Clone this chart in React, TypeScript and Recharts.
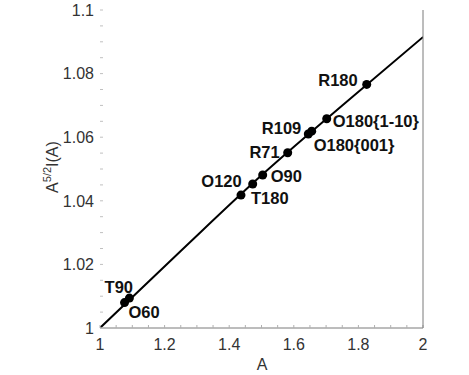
import { ComposedChart, Line, Scatter, XAxis, YAxis } from 'recharts'

// measured points (A, A^{5/2} I(A))
const pointNames = ['T90', 'O60', 'T180', 'O120', 'O90', 'R71', 'R109', 'O180{001}', 'O180{1-10}', 'R180']
const pointA = [1.076, 1.091, 1.4365, 1.4728, 1.5037, 1.5811, 1.6449, 1.6554, 1.7019, 1.8257]
const pointI = [1.008, 1.0094, 1.0418, 1.0453, 1.0481, 1.0551, 1.061, 1.0619, 1.0658, 1.0766]

// fitted curve
const curveA = [1, 1.25, 1.5, 1.75, 2]
const curveI = [1, 1.0242, 1.048, 1.07, 1.0915]

const xMajor = [1, 1.2, 1.4, 1.6, 1.8, 2]
const yMajor = [1, 1.02, 1.04, 1.06, 1.08, 1.1]

const points = pointNames.map((name, k) => ({ name, a: pointA[k], i: pointI[k] }))
const curve = curveA.map((a, k) => ({ a, i: curveI[k] }))

const range = (from: number, to: number, step: number) => {
  const out: number[] = []
  for (let v = from; v <= to + step / 2; v += step) out.push(Number(v.toFixed(4)))
  return out
}
const xMinor = range(1, 2, 0.05)
const yMinor = range(1, 1.1, 0.005)

// label placement relative to the dot: [anchor, dx, dy]
const labelPlace: Record<string, [string, number, number]> = {
  T90: ['start', -20, -16],
  O60: ['start', -1, 14],
  T180: ['start', 10, 3],
  O120: ['end', -11, -3],
  O90: ['start', 8, 1],
  R71: ['end', -8, -1],
  R109: ['end', -7, -6],
  'O180{001}': ['start', 2, 14],
  'O180{1-10}': ['start', 6, 2],
  R180: ['end', -9, -4],
}

const font = '"Liberation Sans", Arial, sans-serif'
const isMajor = (list: number[], v: number) => list.some((m) => Math.abs(m - v) < 1e-6)
const fmt = (v: number) => String(Number(v.toFixed(2)))

function XTick({ x, payload }: any) {
  if (!isMajor(xMajor, payload.value)) return null
  return (
    <text x={x} y={344} dy="0.36em" textAnchor="middle" fontSize={16} fontFamily={font} fill="#333">
      {fmt(payload.value)}
    </text>
  )
}

function YTick({ y, payload }: any) {
  if (!isMajor(yMajor, payload.value)) return null
  return (
    <text x={94} y={y} dy="0.36em" textAnchor="end" fontSize={16} fontFamily={font} fill="#333">
      {fmt(payload.value)}
    </text>
  )
}

function Dot({ cx, cy, payload }: any) {
  const [anchor, dx, dy] = labelPlace[payload.name]
  return (
    <g>
      <circle cx={cx} cy={cy} r={4.5} fill="#000" />
      <text
        x={cx + dx}
        y={cy + dy}
        dy="0.36em"
        textAnchor={anchor}
        fontSize={16.5}
        fontWeight="bold"
        fontFamily={font}
        fill="#111"
      >
        {payload.name}
      </text>
    </g>
  )
}

function XLabel() {
  return (
    <text x={262} y={364} dy="0.36em" textAnchor="middle" fontSize={16} fontFamily={font} fill="#333">
      A
    </text>
  )
}

function YLabel() {
  return (
    <text transform="translate(58,167) rotate(-90)" textAnchor="middle" fontSize={16} fontFamily={font} fill="#333">
      A
      <tspan fontSize={11} dy={-7}>5/2</tspan>
      <tspan dy={7}>I(A)</tspan>
    </text>
  )
}

export default function App() {
  return (
    <div style={{ position: 'absolute', left: 0, top: 0 }}>
      <ComposedChart width={469} height={375} margin={{ top: 9, right: 45, bottom: 46, left: 99 }}>
        <XAxis
          dataKey="a"
          type="number"
          domain={[1, 2]}
          ticks={xMinor}
          interval={0}
          allowDataOverflow
          height={1}
          tickSize={-3}
          tickLine={{ stroke: '#b0b0b0' }}
          axisLine={{ stroke: '#7a7a7a' }}
          tick={<XTick />}
          label={<XLabel />}
        />
        <XAxis
          xAxisId="top"
          orientation="top"
          type="number"
          domain={[1, 2]}
          ticks={xMinor}
          interval={0}
          allowDataOverflow
          height={1}
          tickSize={-2}
          tick={false}
          tickLine={{ stroke: '#c0c0c0' }}
          axisLine={false}
        />
        <YAxis
          type="number"
          domain={[1, 1.1]}
          ticks={yMinor}
          interval={0}
          allowDataOverflow
          width={1}
          tickSize={-3}
          tickLine={{ stroke: '#c0c0c0' }}
          axisLine={false}
          tick={<YTick />}
          label={<YLabel />}
        />
        <YAxis
          yAxisId="right"
          orientation="right"
          type="number"
          domain={[1, 1.1]}
          ticks={yMinor}
          interval={0}
          allowDataOverflow
          width={1}
          tickSize={-3}
          tick={false}
          tickLine={{ stroke: '#b0b0b0' }}
          axisLine={{ stroke: '#7a7a7a' }}
        />
        <Line
          data={curve}
          dataKey="i"
          type="monotone"
          stroke="#000"
          strokeWidth={2}
          dot={false}
          activeDot={false}
          isAnimationActive={false}
        />
        <Scatter data={points} dataKey="i" shape={<Dot />} isAnimationActive={false} />
      </ComposedChart>
    </div>
  )
}
